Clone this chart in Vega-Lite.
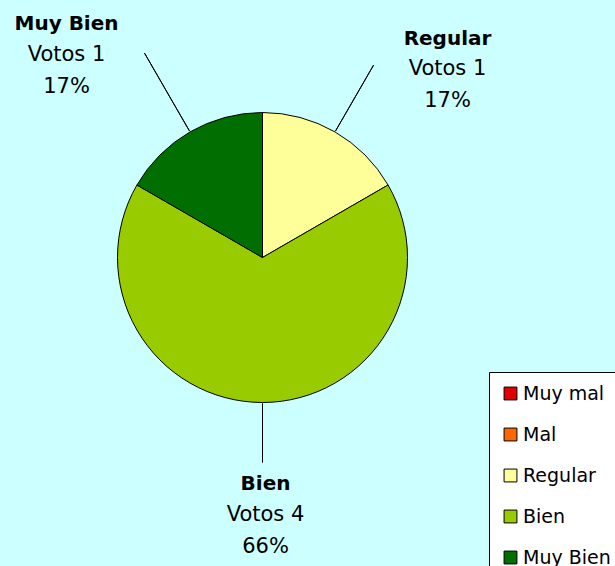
{
  "$schema": "https://vega.github.io/schema/vega-lite/v6.json",
  "width": 525,
  "height": 515,
  "padding": {"left": 0, "top": 0, "right": 90, "bottom": 51},
  "autosize": {"type": "none"},
  "background": "#CCFFFF",
  "config": {"view": {"stroke": null}, "font": "DejaVu Sans", "text": {"color": "black"}},
  "data": {
    "values": [
      {"Categoria": "Muy mal", "Votos": 0, "Porcentaje": 0, "orden": 1},
      {"Categoria": "Mal", "Votos": 0, "Porcentaje": 0, "orden": 2},
      {"Categoria": "Regular", "Votos": 1, "Porcentaje": 17, "orden": 3},
      {"Categoria": "Bien", "Votos": 4, "Porcentaje": 66, "orden": 4},
      {"Categoria": "Muy Bien", "Votos": 1, "Porcentaje": 17, "orden": 5}
    ]
  },
  "transform": [
    {"joinaggregate": [{"op": "sum", "field": "Votos", "as": "total"}]},
    {"window": [{"op": "sum", "field": "Votos", "as": "acum"}], "sort": [{"field": "orden"}], "frame": [null, 0]},
    {"calculate": "datum.acum / datum.total", "as": "fin"},
    {"calculate": "(datum.acum - datum.Votos) / datum.total", "as": "inicio"},
    {"calculate": "(datum.acum - datum.Votos / 2) / datum.total", "as": "medio"},
    {"calculate": "'Votos ' + datum.Votos", "as": "texto_votos"},
    {"calculate": "datum.Porcentaje + '%'", "as": "texto_pct"}
  ],
  "layer": [
    {
      "transform": [{"filter": "datum.Votos > 0"}],
      "mark": {"type": "arc", "radius": 145, "stroke": "black", "strokeWidth": 1},
      "encoding": {
        "theta": {"field": "inicio", "type": "quantitative", "stack": null, "scale": {"domain": [0, 1], "nice": false, "zero": false}},
        "theta2": {"field": "fin"},
        "color": {
          "field": "Categoria",
          "type": "nominal",
          "scale": {
            "domain": ["Muy mal", "Mal", "Regular", "Bien", "Muy Bien"],
            "range": ["#E00000", "#FF6600", "#FFFF99", "#99CC00", "#006E00"]
          },
          "legend": {
            "title": null,
            "orient": "none",
            "legendX": 489,
            "legendY": 372,
            "direction": "vertical",
            "fillColor": "white",
            "strokeColor": "black",
            "padding": 12,
            "symbolType": "square",
            "symbolSize": 165,
            "symbolStrokeColor": "black",
            "symbolStrokeWidth": 1,
            "symbolOpacity": 1,
            "labelFont": "DejaVu Sans",
            "labelFontSize": 19,
            "labelColor": "black",
            "labelOffset": 3,
            "rowPadding": 21
          }
        }
      }
    },
    {
      "transform": [{"filter": "datum.Categoria === 'Muy Bien'"}],
      "mark": {"type": "arc", "radius": 236, "radius2": 146, "filled": false, "stroke": "black", "strokeWidth": 1},
      "encoding": {"theta": {"field": "medio", "type": "quantitative", "stack": null, "scale": {"domain": [0, 1], "nice": false, "zero": false}}, "theta2": {"field": "medio"}}
    },
    {
      "transform": [{"filter": "datum.Categoria === 'Regular'"}],
      "mark": {"type": "arc", "radius": 222, "radius2": 146, "filled": false, "stroke": "black", "strokeWidth": 1},
      "encoding": {"theta": {"field": "medio", "type": "quantitative", "stack": null, "scale": {"domain": [0, 1], "nice": false, "zero": false}}, "theta2": {"field": "medio"}}
    },
    {
      "transform": [{"filter": "datum.Categoria === 'Bien'"}],
      "mark": {"type": "arc", "radius": 205, "radius2": 146, "filled": false, "stroke": "black", "strokeWidth": 1},
      "encoding": {"theta": {"field": "medio", "type": "quantitative", "stack": null, "scale": {"domain": [0, 1], "nice": false, "zero": false}}, "theta2": {"field": "medio"}}
    },
    {
      "transform": [{"filter": "datum.Categoria === 'Muy Bien'"}],
      "mark": {"type": "text", "radius": 236, "dx": -78, "dy": -29, "fontSize": 20, "fontWeight": "bold", "baseline": "middle", "align": "center"},
      "encoding": {"theta": {"field": "medio", "type": "quantitative", "stack": null, "scale": {"domain": [0, 1], "nice": false, "zero": false}}, "text": {"field": "Categoria", "type": "nominal"}}
    },
    {
      "transform": [{"filter": "datum.Categoria === 'Muy Bien'"}],
      "mark": {"type": "text", "radius": 236, "dx": -78, "dy": 2, "fontSize": 21, "baseline": "middle", "align": "center"},
      "encoding": {"theta": {"field": "medio", "type": "quantitative", "stack": null, "scale": {"domain": [0, 1], "nice": false, "zero": false}}, "text": {"field": "texto_votos", "type": "nominal"}}
    },
    {
      "transform": [{"filter": "datum.Categoria === 'Muy Bien'"}],
      "mark": {"type": "text", "radius": 236, "dx": -78, "dy": 34, "fontSize": 21, "baseline": "middle", "align": "center"},
      "encoding": {"theta": {"field": "medio", "type": "quantitative", "stack": null, "scale": {"domain": [0, 1], "nice": false, "zero": false}}, "text": {"field": "texto_pct", "type": "nominal"}}
    },
    {
      "transform": [{"filter": "datum.Categoria === 'Regular'"}],
      "mark": {"type": "text", "radius": 222, "dx": 74, "dy": -26, "fontSize": 20, "fontWeight": "bold", "baseline": "middle", "align": "center"},
      "encoding": {"theta": {"field": "medio", "type": "quantitative", "stack": null, "scale": {"domain": [0, 1], "nice": false, "zero": false}}, "text": {"field": "Categoria", "type": "nominal"}}
    },
    {
      "transform": [{"filter": "datum.Categoria === 'Regular'"}],
      "mark": {"type": "text", "radius": 222, "dx": 74, "dy": 4, "fontSize": 21, "baseline": "middle", "align": "center"},
      "encoding": {"theta": {"field": "medio", "type": "quantitative", "stack": null, "scale": {"domain": [0, 1], "nice": false, "zero": false}}, "text": {"field": "texto_votos", "type": "nominal"}}
    },
    {
      "transform": [{"filter": "datum.Categoria === 'Regular'"}],
      "mark": {"type": "text", "radius": 222, "dx": 74, "dy": 36, "fontSize": 21, "baseline": "middle", "align": "center"},
      "encoding": {"theta": {"field": "medio", "type": "quantitative", "stack": null, "scale": {"domain": [0, 1], "nice": false, "zero": false}}, "text": {"field": "texto_pct", "type": "nominal"}}
    },
    {
      "transform": [{"filter": "datum.Categoria === 'Bien'"}],
      "mark": {"type": "text", "radius": 205, "dx": 3, "dy": 21, "fontSize": 20, "fontWeight": "bold", "baseline": "middle", "align": "center"},
      "encoding": {"theta": {"field": "medio", "type": "quantitative", "stack": null, "scale": {"domain": [0, 1], "nice": false, "zero": false}}, "text": {"field": "Categoria", "type": "nominal"}}
    },
    {
      "transform": [{"filter": "datum.Categoria === 'Bien'"}],
      "mark": {"type": "text", "radius": 205, "dx": 3, "dy": 52, "fontSize": 21, "baseline": "middle", "align": "center"},
      "encoding": {"theta": {"field": "medio", "type": "quantitative", "stack": null, "scale": {"domain": [0, 1], "nice": false, "zero": false}}, "text": {"field": "texto_votos", "type": "nominal"}}
    },
    {
      "transform": [{"filter": "datum.Categoria === 'Bien'"}],
      "mark": {"type": "text", "radius": 205, "dx": 3, "dy": 84, "fontSize": 21, "baseline": "middle", "align": "center"},
      "encoding": {"theta": {"field": "medio", "type": "quantitative", "stack": null, "scale": {"domain": [0, 1], "nice": false, "zero": false}}, "text": {"field": "texto_pct", "type": "nominal"}}
    }
  ]
}
